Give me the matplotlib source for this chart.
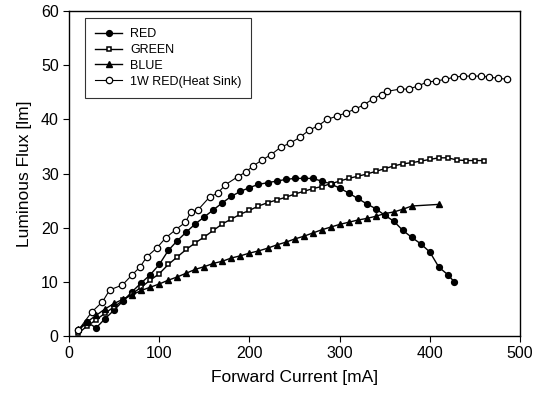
import matplotlib
matplotlib.use("Agg")
import matplotlib.pyplot as plt

plt.rcParams['font.family'] = ['Liberation Sans', 'DejaVu Sans']

# RED (filled circles)
red_x = [10, 20, 30, 40, 50, 60, 70, 80, 90, 100, 110, 120, 130, 140, 150, 160,
         170, 180, 190, 200, 210, 220, 230, 240, 250, 260, 270, 280, 290, 300,
         310, 320, 330, 340, 350, 360, 370, 380, 390, 400, 410, 420, 427]
red_y = [1.0, 2.5, 1.5, 3.2, 4.8, 6.5, 8.2, 9.8, 11.3, 13.2, 15.8, 17.6, 19.2,
         20.7, 22.0, 23.3, 24.6, 25.8, 26.7, 27.4, 28.0, 28.3, 28.6, 28.9, 29.1,
         29.1, 29.1, 28.6, 28.1, 27.3, 26.4, 25.4, 24.4, 23.5, 22.3, 21.2, 19.5,
         18.2, 17.0, 15.5, 12.7, 11.3, 10.0]

# GREEN (open squares)
green_x = [10, 20, 30, 40, 50, 60, 70, 80, 90, 100, 110, 120, 130, 140, 150, 160,
           170, 180, 190, 200, 210, 220, 230, 240, 250, 260, 270, 280, 290, 300,
           310, 320, 330, 340, 350, 360, 370, 380, 390, 400, 410, 420, 430, 440,
           450, 460]
green_y = [0.5, 1.8, 3.0, 4.2, 5.4, 6.6, 7.8, 9.0, 10.3, 11.5, 13.2, 14.6, 16.0,
           17.2, 18.3, 19.5, 20.7, 21.6, 22.5, 23.2, 24.0, 24.6, 25.1, 25.6, 26.2,
           26.7, 27.2, 27.6, 28.1, 28.6, 29.1, 29.5, 29.9, 30.4, 30.9, 31.4, 31.8,
           32.0, 32.3, 32.6, 32.9, 32.9, 32.5, 32.4, 32.4, 32.4]

# BLUE (filled triangles)
blue_x = [10, 20, 30, 40, 50, 60, 70, 80, 90, 100, 110, 120, 130, 140, 150, 160,
          170, 180, 190, 200, 210, 220, 230, 240, 250, 260, 270, 280, 290, 300,
          310, 320, 330, 340, 350, 360, 370, 380, 410]
blue_y = [1.2, 2.6, 3.8, 5.0, 6.0, 6.8, 7.6, 8.4, 9.0, 9.6, 10.3, 10.9, 11.6,
          12.3, 12.8, 13.4, 13.8, 14.4, 14.8, 15.3, 15.7, 16.2, 16.8, 17.3, 17.9,
          18.4, 19.0, 19.6, 20.1, 20.6, 21.0, 21.4, 21.7, 22.1, 22.6, 22.9, 23.4,
          24.0, 24.3]

# 1W RED (Heat Sink) (open circles)
w1_x = [10, 25, 37, 45, 59, 70, 79, 86, 97, 107, 118, 129, 135, 143, 156, 165,
        173, 187, 196, 204, 214, 224, 235, 245, 256, 266, 276, 286, 297, 307,
        317, 327, 337, 347, 353, 367, 377, 387, 397, 407, 417, 427, 437, 447,
        457, 466, 476, 486]
w1_y = [1.0, 4.4, 6.3, 8.5, 9.4, 11.3, 12.8, 14.6, 16.2, 18.1, 19.6, 21.0, 22.9,
        23.3, 25.7, 26.4, 27.9, 29.4, 30.3, 31.4, 32.5, 33.5, 34.9, 35.6, 36.7,
        38.0, 38.8, 40.0, 40.6, 41.2, 41.9, 42.7, 43.8, 44.6, 45.2, 45.6, 45.6,
        46.2, 46.9, 47.1, 47.4, 47.8, 48.0, 48.0, 48.0, 47.8, 47.6, 47.4]

fig = plt.figure(figsize=(5.4, 3.98), dpi=100)
ax = fig.add_axes([0.128, 0.156, 0.835, 0.816])

ax.plot(red_x, red_y, color='black', lw=1.0, marker='o', ms=4.2,
        mfc='black', mec='black', label='RED')
ax.plot(green_x, green_y, color='black', lw=1.0, marker='s', ms=3.5,
        mfc='white', mec='black', mew=1.1, label='GREEN')
ax.plot(blue_x, blue_y, color='black', lw=1.0, marker='^', ms=4.2,
        mfc='black', mec='black', label='BLUE')
ax.plot(w1_x, w1_y, color='black', lw=0.8, marker='o', ms=4.6,
        mfc='white', mec='black', mew=0.9, label='1W RED(Heat Sink)')

ax.set_xlim(0, 500)
ax.set_ylim(0, 60)
ax.set_xticks(range(0, 501, 100))
ax.set_yticks(range(0, 61, 10))
ax.tick_params(direction='out', length=4, width=0.8, labelsize=11.5, colors='black')
for s in ax.spines.values():
    s.set_linewidth(1.0)

ax.set_xlabel('Forward Current [mA]', fontsize=12.5, labelpad=6)
ax.set_ylabel('Luminous Flux [lm]', fontsize=12.5, labelpad=6)

leg = ax.legend(loc='upper left', bbox_to_anchor=(0.035, 0.978), borderaxespad=0,
                fancybox=False, edgecolor='black', fontsize=9, handlelength=2.2,
                labelspacing=0.3, borderpad=0.8, handletextpad=0.6)
leg.get_frame().set_linewidth(0.8)

fig.savefig('out.png', dpi=100)
